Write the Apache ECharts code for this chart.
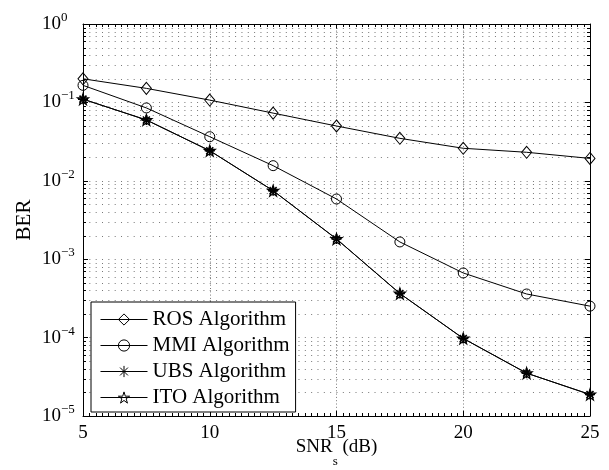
<!DOCTYPE html>
<html><head><meta charset="utf-8">
<script src="https://cdn.jsdelivr.net/npm/echarts@6/dist/echarts.min.js"></script>
<style>html,body{margin:0;padding:0;background:#fff}#c{width:609px;height:470px}</style>
</head><body><div id="c"></div>
<script>
// ---- data ----
const snr = [5, 7.5, 10, 12.5, 15, 17.5, 20, 22.5, 25];
const berROS = [0.2, 0.151, 0.107, 0.0730, 0.050, 0.0348, 0.0260, 0.0231, 0.0193];
const berMMI = [0.165, 0.085, 0.0365, 0.0156, 0.00586, 0.00166, 0.000667, 0.00036, 0.000252];
const berUBS = [0.11, 0.0597, 0.0242, 0.00748, 0.00181, 0.000365, 0.0000975, 0.0000352, 0.0000188];
const berITO = [0.11, 0.0597, 0.0242, 0.00748, 0.00181, 0.000365, 0.0000975, 0.0000352, 0.0000188];
const seriesNames = ['ROS Algorithm', 'MMI Algorithm', 'UBS Algorithm', 'ITO Algorithm'];
const xLabelText = 'SNR';
const xLabelSub = 's';
const xLabelUnit = ' (dB)';
const yLabelText = 'BER';

// ---- axis structure (minor tick / grid positions) ----
const xMinor = [];
for (let k = 21; k < 100; k++) { if (k % 20 !== 0) xMinor.push(k / 4); }
const yMinor = [];
for (let e = -5; e < 0; e++) for (let m = 2; m <= 9; m++) yMinor.push(m * Math.pow(10, e));

const FONT = 'Liberation Serif';
const GRIDC = '#787878';
const HDASH = [1, 5.3375];

const asteriskPath = 'path://M5 0L5 10M0 5L10 5M1.5 1.5L8.5 8.5M8.5 1.5L1.5 8.5';
const starPath = 'path://M50 0L61.23 34.55L97.55 34.55L68.17 55.9L79.39 90.45L50 69.1L20.61 90.45L31.83 55.9L2.45 34.55L38.77 34.55Z';

function mkLine(name, ys, symbol, size, bw) {
  return {
    name: name, type: 'line', xAxisIndex: 0, yAxisIndex: 0, z: 3,
    data: snr.map((x, i) => [x, ys[i]]),
    symbol: symbol, symbolSize: size, showSymbol: true, clip: false,
    lineStyle: { color: '#000', width: 1 },
    itemStyle: { color: 'rgba(0,0,0,0)', borderColor: '#000', borderWidth: bw || 1 },
    emphasis: { disabled: true }, silent: true
  };
}

function renderXMinor(params, api) {
  const cs = params.coordSys;
  const p = api.coord([api.value(0), api.value(1)]);
  const x = Math.round(p[0]) + 0.5;
  const y0 = cs.y, y1 = cs.y + cs.height;
  return { type: 'group', children: [
    { type: 'line', shape: { x1: x, y1: y1, x2: x, y2: y1 - 3 }, style: { stroke: '#000', lineWidth: 1 } },
    { type: 'line', shape: { x1: x, y1: y0, x2: x, y2: y0 + 3 }, style: { stroke: '#000', lineWidth: 1 } }
  ] };
}
function renderYMinor(params, api) {
  const cs = params.coordSys;
  const p = api.coord([api.value(0), api.value(1)]);
  const y = Math.round(p[1]) + 0.5;
  const x0 = cs.x, x1 = cs.x + cs.width;
  return { type: 'group', children: [
    { type: 'line', shape: { x1: x0, y1: y, x2: x1, y2: y }, style: { stroke: GRIDC, lineWidth: 1, lineDash: HDASH } },
    { type: 'line', shape: { x1: x0, y1: y, x2: x0 + 3, y2: y }, style: { stroke: '#000', lineWidth: 1 } },
    { type: 'line', shape: { x1: x1, y1: y, x2: x1 - 3, y2: y }, style: { stroke: '#000', lineWidth: 1 } }
  ] };
}

const chart = echarts.init(document.getElementById('c'), null, { renderer: 'canvas' });

const xBase = {
  type: 'value', min: 5, max: 25, interval: 5, gridIndex: 0,
  axisLine: { show: true, onZero: false, lineStyle: { color: '#000', width: 1 } },
  axisTick: { show: true, inside: true, length: 5, lineStyle: { color: '#000', width: 1 } }
};
const yBase = {
  type: 'log', logBase: 10, min: 1e-5, max: 1, gridIndex: 0,
  axisLine: { show: true, onZero: false, lineStyle: { color: '#000', width: 1 } },
  axisTick: { show: true, inside: true, length: 5, lineStyle: { color: '#000', width: 1 } }
};

const option = {
  animation: false,
  backgroundColor: '#fff',
  grid: { left: 83, top: 24, right: 19, bottom: 54, containLabel: false, outerBoundsMode: 'none' },
  xAxis: [
    Object.assign({}, xBase, {
      position: 'bottom',
      axisLabel: { color: '#000', fontFamily: FONT, fontSize: 19, margin: 8 },
      splitLine: { show: true, lineStyle: { color: GRIDC, width: 1, type: [1, 2.3] } },
      name: '{a|' + xLabelText + '}{s|' + xLabelSub + '}{a|' + xLabelUnit + '}',
      nameLocation: 'middle', nameGap: 22, nameMoveOverlap: false,
      nameTextStyle: {
        verticalAlign: 'top',
        rich: {
          a: { fontFamily: FONT, fontSize: 19, color: '#000', lineHeight: 19, verticalAlign: 'top' },
          s: { fontFamily: FONT, fontSize: 13, color: '#000', lineHeight: 13, verticalAlign: 'top', padding: [17, 0, 0, 0] }
        }
      }
    }),
    Object.assign({}, xBase, { position: 'top', axisLabel: { show: false }, splitLine: { show: false } })
  ],
  yAxis: [
    Object.assign({}, yBase, {
      position: 'left',
      axisLabel: {
        align: 'left', margin: 41,
        formatter: function (v) {
          const e = Math.round(Math.log10(v));
          return '{b|10}{e|' + (e === 0 ? '0' : '\u2212' + (-e)) + '}';
        },
        rich: {
          b: { fontFamily: FONT, fontSize: 19, color: '#000', lineHeight: 26 },
          e: { fontFamily: FONT, fontSize: 13, color: '#000', lineHeight: 13, verticalAlign: 'top' }
        }
      },
      splitLine: { show: true, lineStyle: { color: GRIDC, width: 1, type: HDASH } },
      name: yLabelText, nameLocation: 'middle', nameRotate: 90, nameGap: 48, nameMoveOverlap: false,
      nameTextStyle: { fontFamily: FONT, fontSize: 21, color: '#000' }
    }),
    Object.assign({}, yBase, { position: 'right', axisLabel: { show: false }, splitLine: { show: false } })
  ],
  legend: {
    data: seriesNames, orient: 'vertical', left: 91, top: 302,
    itemWidth: 47, itemHeight: 14, itemGap: 5, padding: [7, 6, 4, 9],
    borderColor: '#000', borderWidth: 1, backgroundColor: '#fff', borderRadius: 0,
    selectedMode: false,
    itemStyle: { color: 'rgba(0,0,0,0)', borderColor: '#000', borderWidth: 1 },
    lineStyle: { color: '#000', width: 1 },
    textStyle: { fontFamily: FONT, fontSize: 21, color: '#000', lineHeight: 20 }
  },
  series: [
    { type: 'custom', name: 'xminor', z: 1, silent: true, xAxisIndex: 0, yAxisIndex: 0,
      data: xMinor.map(v => [v, 1e-3]), renderItem: renderXMinor, encode: { x: 0, y: 1 } },
    { type: 'custom', name: 'yminor', z: 1, silent: true, xAxisIndex: 0, yAxisIndex: 0,
      data: yMinor.map(v => [6, v]), renderItem: renderYMinor, encode: { x: 0, y: 1 } },
    mkLine(seriesNames[0], berROS, 'diamond', [10, 12]),
    mkLine(seriesNames[1], berMMI, 'circle', 10),
    mkLine(seriesNames[2], berUBS, asteriskPath, 10, 1.6),
    mkLine(seriesNames[3], berITO, starPath, 11, 1.2)
  ]
};
chart.setOption(option);
</script>
</body></html>
